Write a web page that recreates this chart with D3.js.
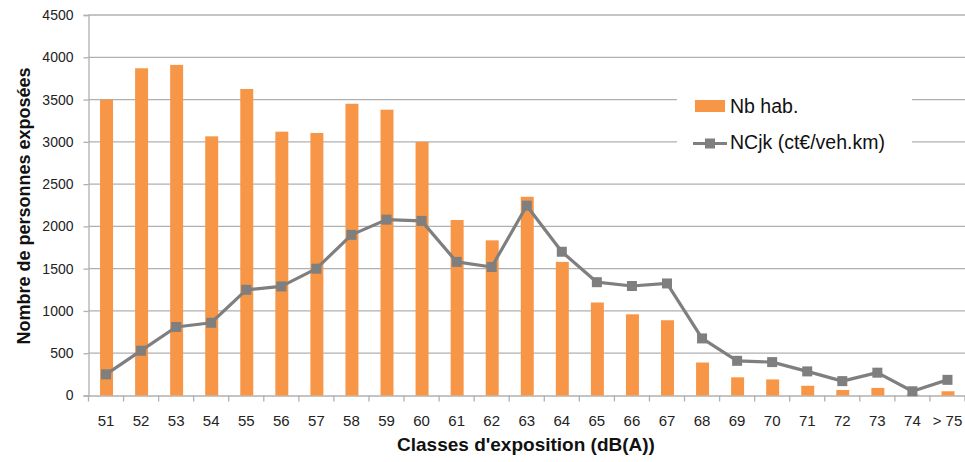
<!DOCTYPE html>
<html><head><meta charset="utf-8">
<script src="https://cdn.jsdelivr.net/npm/d3@7"></script>
<style>body{margin:0;background:#fff}svg{display:block}text{font-family:"Liberation Sans",Arial,sans-serif}</style>
</head><body><svg width="965" height="462"></svg>
<script>
const categories = ["51","52","53","54","55","56","57","58","59","60","61","62","63","64","65","66","67","68","69","70","71","72","73","74","> 75"];
const nbHab = [3500,3870,3910,3065,3625,3120,3105,3450,3380,3000,2075,1835,2350,1580,1100,960,890,390,215,190,115,65,90,10,50];
const ncjk = [250,530,810,860,1250,1290,1500,1900,2080,2065,1580,1520,2245,1700,1340,1295,1325,675,410,395,285,170,270,50,185];
const yTicks = [0,500,1000,1500,2000,2500,3000,3500,4000,4500];
const seriesNames = ["Nb hab.","NCjk (ct€/veh.km)"];

const svg = d3.select("svg");
const m = {l:88.5, r:965, t:15, b:395.5};
const x = d3.scaleBand().domain(categories).range([m.l, m.r]).padding(0);
const y = d3.scaleLinear().domain([0,4500]).range([m.b, m.t]);
const gridC = "#b0b0b0", orange = "#f79646", grey = "#7f7f7f";

// gridlines
svg.append("g").selectAll("line").data(yTicks.filter(d=>d>0)).join("line")
  .attr("x1", m.l).attr("x2", m.r).attr("y1", d=>y(d)).attr("y2", d=>y(d))
  .attr("stroke", gridC).attr("stroke-width",1.3);

// y axis
const ya = svg.append("g").attr("transform",`translate(${m.l},0)`)
  .call(d3.axisLeft(y).tickValues(yTicks).tickSize(5).tickPadding(10).tickFormat(d3.format("d")));
ya.select(".domain").attr("stroke", gridC).attr("stroke-width",1.3);
ya.selectAll(".tick line").attr("stroke", gridC).attr("stroke-width",1.3);
ya.selectAll("text").attr("font-size",14).attr("fill","#222").attr("font-family","Liberation Sans, Arial, sans-serif");

// x axis
const xa = svg.append("g").attr("transform",`translate(0,${m.b})`)
  .call(d3.axisBottom(x).tickSize(0).tickPadding(19.5));
xa.select(".domain").attr("stroke", gridC).attr("stroke-width",1.3);
xa.selectAll("text").attr("font-size",15).attr("fill","#222").attr("font-family","Liberation Sans, Arial, sans-serif");
// boundary ticks
svg.append("g").selectAll("line").data(categories.concat([null])).join("line")
  .attr("x1",(d,i)=> i<categories.length ? x(d) : m.r).attr("x2",(d,i)=> i<categories.length ? x(d) : m.r)
  .attr("y1", m.b).attr("y2", m.b+6).attr("stroke", gridC).attr("stroke-width",1.3);

// bars
const bw = x.bandwidth()*0.37;
svg.append("g").selectAll("rect").data(nbHab).join("rect")
  .attr("x",(d,i)=>x(categories[i])+x.bandwidth()/2-bw/2+0.5)
  .attr("width", bw).attr("y", d=>y(d)).attr("height", d=>m.b-y(d)).attr("fill", orange);

// line
const line = d3.line().x((d,i)=>x(categories[i])+x.bandwidth()/2).y(d=>y(d));
svg.append("path").datum(ncjk).attr("d", line).attr("fill","none").attr("stroke",grey).attr("stroke-width",3.2).attr("stroke-linejoin","round");
svg.append("g").selectAll("rect").data(ncjk).join("rect")
  .attr("x",(d,i)=>x(categories[i])+x.bandwidth()/2-5).attr("y",d=>y(d)-5)
  .attr("width",10).attr("height",10).attr("fill",grey);

// legend
const lg = svg.append("g");
lg.append("rect").attr("x",677).attr("y",78).attr("width",235).attr("height",86).attr("fill","#fff");
lg.append("rect").attr("x",695).attr("y",100).attr("width",30).attr("height",12).attr("fill",orange);
lg.append("text").attr("x",730).attr("y",113.3).attr("font-size",19.5).attr("fill","#111").text(seriesNames[0]);
lg.append("line").attr("x1",693).attr("x2",727).attr("y1",143.5).attr("y2",143.5).attr("stroke",grey).attr("stroke-width",3.2);
lg.append("rect").attr("x",705).attr("y",138.5).attr("width",10).attr("height",10).attr("fill",grey);
lg.append("text").attr("x",730).attr("y",148.5).attr("font-size",19.5).attr("fill","#111").text(seriesNames[1]);

// titles
svg.append("text").attr("transform","translate(29.5,206) rotate(-90)").attr("text-anchor","middle")
  .attr("font-size",18).attr("font-weight","bold").attr("fill","#111").text("Nombre de personnes exposées");
svg.append("text").attr("x",526).attr("y",451).attr("text-anchor","middle")
  .attr("font-size",19).attr("font-weight","bold").attr("fill","#111").text("Classes d'exposition (dB(A))");
</script></body></html>
